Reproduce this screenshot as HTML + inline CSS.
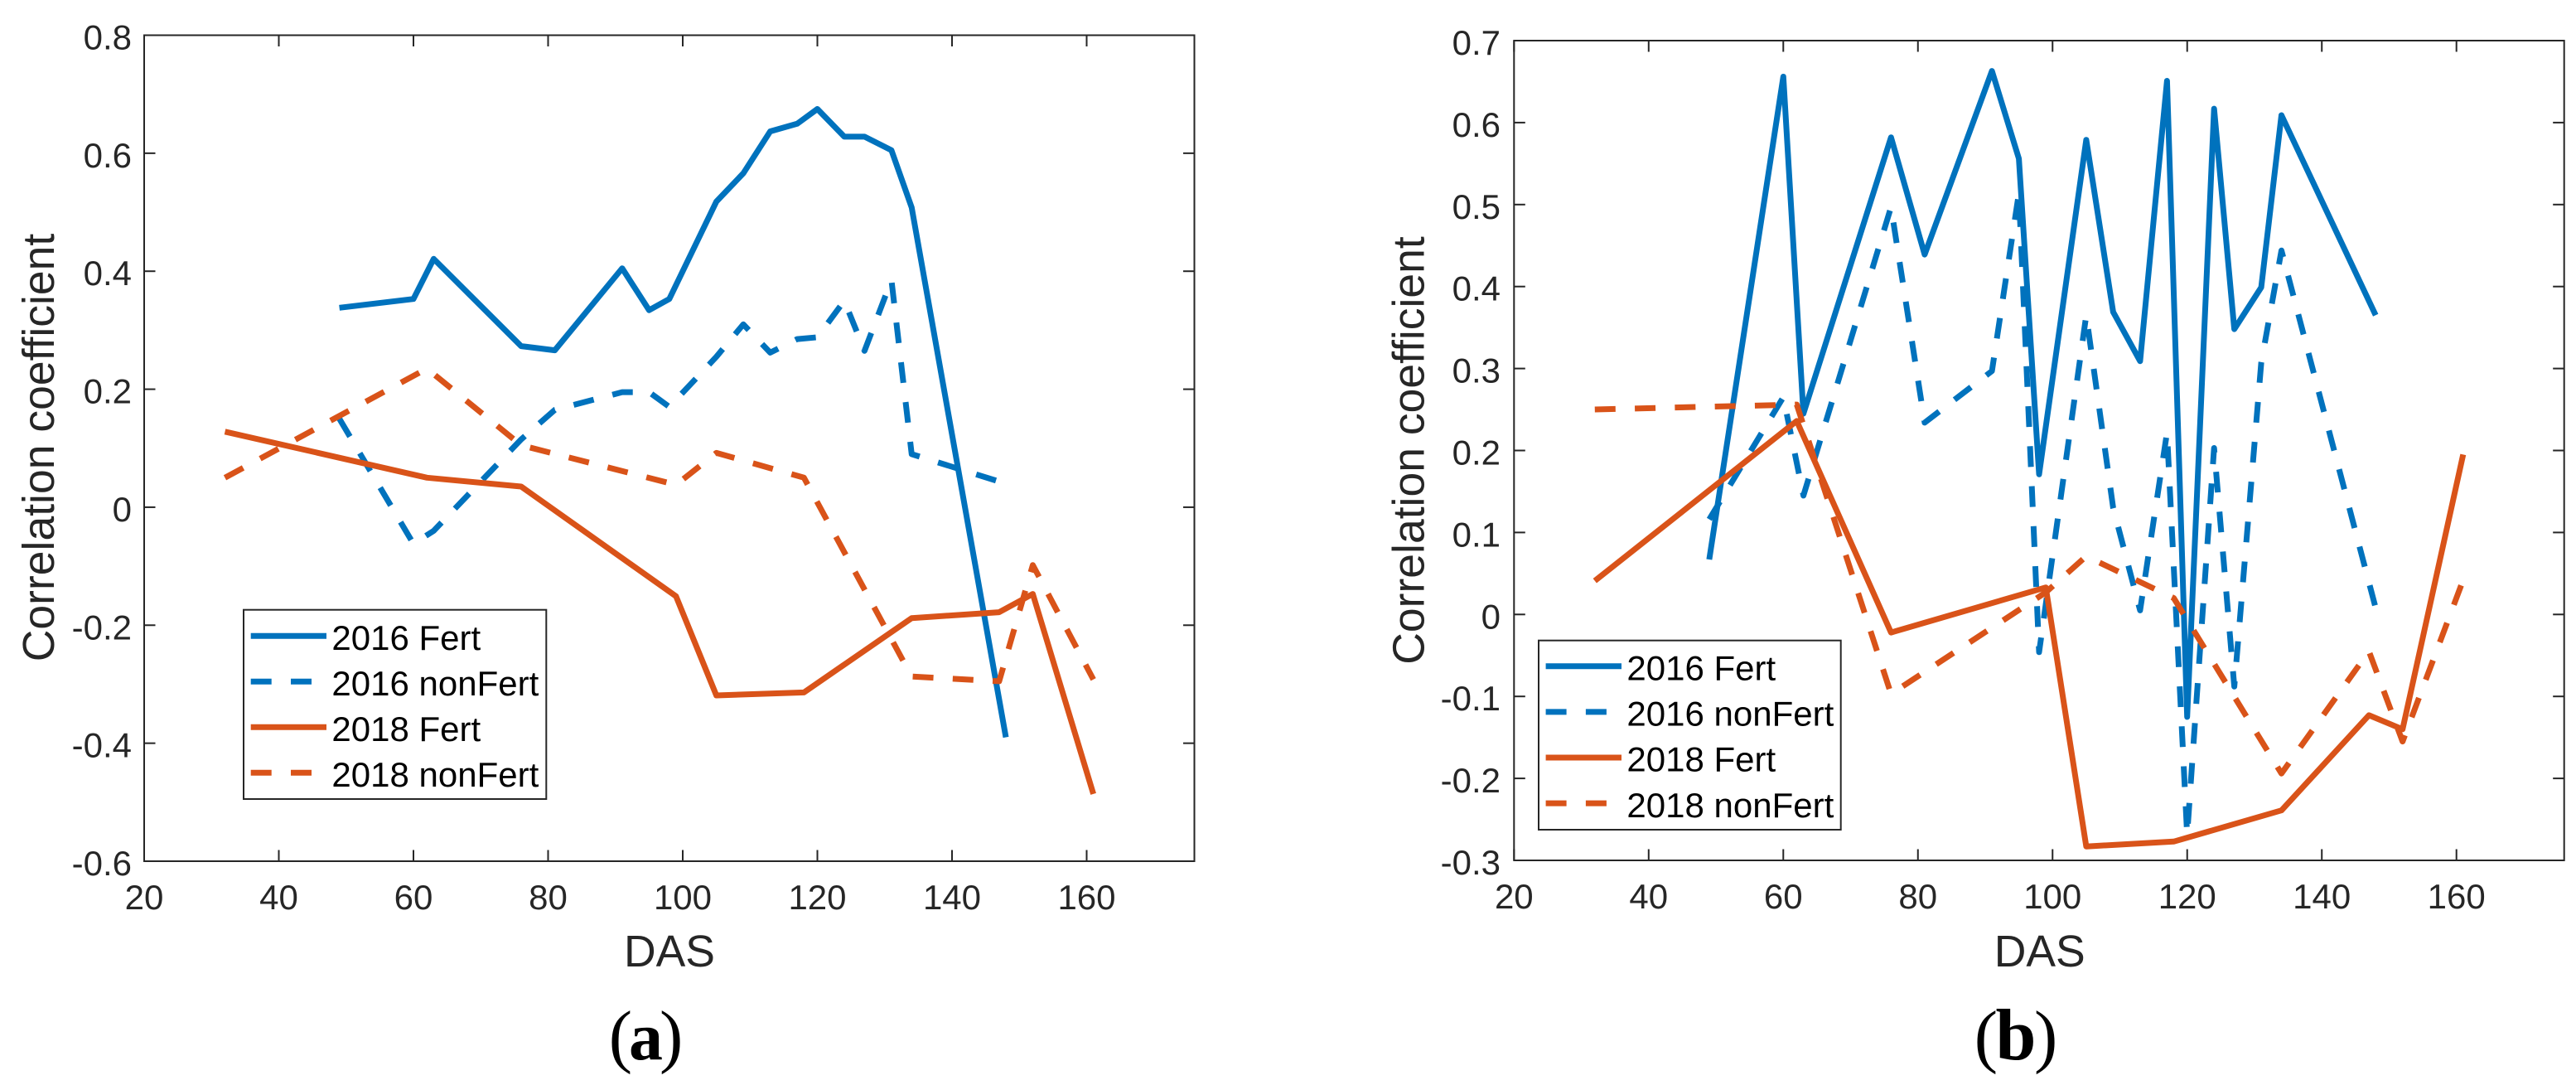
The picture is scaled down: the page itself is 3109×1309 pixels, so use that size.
<!DOCTYPE html>
<html lang="en">
<head>
<meta charset="utf-8">
<title>Correlation coefficient versus DAS</title>
<style>
html,body{margin:0;padding:0;background:#fff;width:3109px;height:1309px;overflow:hidden}
svg{display:block;font-family:"Liberation Sans",Arial,sans-serif}
</style>
</head>
<body>
<svg id="figure" width="3109" height="1309" viewBox="0 0 3109 1309" xmlns="http://www.w3.org/2000/svg">
  <rect width="3109" height="1309" fill="#fff"/>
  <g id="panel-a"></g>
  <g id="panel-b"></g>
  <text x="779.5" y="1278" text-anchor="middle" font-family="'Liberation Serif',serif"><tspan font-size="85">(</tspan><tspan font-size="82" font-weight="700" dx="-4">a</tspan><tspan font-size="85" dx="-4">)</tspan></text>
  <text x="2433" y="1278" text-anchor="middle" font-family="'Liberation Serif',serif"><tspan font-size="85">(</tspan><tspan font-size="88" font-weight="700" dx="-2.5">b</tspan><tspan font-size="85" dx="-2.5">)</tspan></text>
</svg>
<script>
// ---- data ----
const das2016 = [49, 60, 63, 76, 81, 91, 95, 98, 105, 109, 113, 117, 120, 124, 127, 131, 134, 148];
const das2018 = [32, 62, 76, 99, 105, 118, 134, 147, 152, 161];

const a2016Fert = [0.338, 0.353, 0.421, 0.273, 0.266, 0.405, 0.334, 0.353, 0.518, 0.566, 0.637, 0.650, 0.675, 0.628, 0.628, 0.605, 0.508, -0.390];
const a2016NonFert = [0.150, -0.062, -0.040, 0.115, 0.165, 0.195, 0.195, 0.170, 0.255, 0.310, 0.262, 0.285, 0.288, 0.350, 0.265, 0.385, 0.090, 0.040];
const a2018Fert = [0.128, 0.050, 0.035, -0.151, -0.319, -0.314, -0.188, -0.178, -0.147, -0.486];
const a2018NonFert = [0.050, 0.235, 0.105, 0.038, 0.092, 0.050, -0.287, -0.295, -0.098, -0.292];

const b2016Fert = [0.067, 0.656, 0.245, 0.582, 0.439, 0.663, 0.556, 0.171, 0.579, 0.369, 0.309, 0.651, -0.125, 0.617, 0.348, 0.399, 0.609, 0.365];
const b2016NonFert = [0.116, 0.265, 0.145, 0.497, 0.234, 0.297, 0.514, -0.046, 0.365, 0.130, 0.005, 0.222, -0.269, 0.203, -0.088, 0.307, 0.444, 0.008];
const b2018Fert = [0.041, 0.236, -0.022, 0.033, -0.283, -0.277, -0.239, -0.123, -0.140, 0.195];
const b2018NonFert = [0.250, 0.256, -0.097, 0.027, 0.071, 0.020, -0.194, -0.045, -0.155, 0.042];

const xTickValues = [20, 40, 60, 80, 100, 120, 140, 160];
const aYTickValues = [-0.6, -0.4, -0.2, 0, 0.2, 0.4, 0.6, 0.8];
const aYTickLabels = ["-0.6", "-0.4", "-0.2", "0", "0.2", "0.4", "0.6", "0.8"];
const bYTickValues = [-0.3, -0.2, -0.1, 0, 0.1, 0.2, 0.3, 0.4, 0.5, 0.6, 0.7];
const bYTickLabels = ["-0.3", "-0.2", "-0.1", "0", "0.1", "0.2", "0.3", "0.4", "0.5", "0.6", "0.7"];
const legendLabels = ["2016 Fert", "2016 nonFert", "2018 Fert", "2018 nonFert"];

// ---- drawing ----
const NS = "http://www.w3.org/2000/svg";
const BLUE = "#0072BD", ORANGE = "#D95319", AXIS = "#262626";
const DASH = "25 23.3";

function make(tag, attrs, parent) {
  const el = document.createElementNS(NS, tag);
  for (const k in attrs) el.setAttribute(k, attrs[k]);
  parent.appendChild(el);
  return el;
}

function label(parent, name, str, x, y, size, anchor, fill) {
  const el = make("text", { x: x, y: y, "font-size": size, "text-anchor": anchor, fill: fill }, parent);
  
  
  el.textContent = str;
  return el;
}

function drawPanel(cfg) {
  const g = document.getElementById(cfg.id);
  const sx = v => cfg.left + (v - cfg.xMin) * (cfg.right - cfg.left) / (cfg.xMax - cfg.xMin);
  const sy = v => cfg.bottom - (v - cfg.yMin) * (cfg.bottom - cfg.top) / (cfg.yMax - cfg.yMin);

  const box = make("rect", {
    x: cfg.left, y: cfg.top, width: cfg.right - cfg.left, height: cfg.bottom - cfg.top,
    fill: "none", stroke: AXIS, "stroke-width": 2
  }, g);
  
  

  xTickValues.forEach(v => {
    const px = sx(v);
    [[cfg.bottom, cfg.bottom - 13.5], [cfg.top, cfg.top + 13.5]].forEach(p => {
      const t = make("line", { x1: px, x2: px, y1: p[0], y2: p[1], stroke: AXIS, "stroke-width": 2 }, g);
      
      
    });
    label(g, "x-tick-label", String(v), px, cfg.xLabelY, 42, "middle", AXIS);
  });

  cfg.yTicks.forEach((v, i) => {
    const py = sy(v);
    [[cfg.left, cfg.left + 13.5], [cfg.right, cfg.right - 13.5]].forEach(p => {
      const t = make("line", { x1: p[0], x2: p[1], y1: py, y2: py, stroke: AXIS, "stroke-width": 2 }, g);
      
      
    });
    label(g, "y-tick-label", cfg.yLabels[i], cfg.yLabelX, py + 17, 42, "end", AXIS);
  });

  label(g, "x-axis-title", "DAS", cfg.xTitleX, 1166, 53.5, "middle", AXIS);

  const yt = make("text", {
    transform: "translate(" + cfg.yTitleX + " " + cfg.yTitleY + ") rotate(-90)",
    "font-size": 53.5, "text-anchor": "middle", fill: AXIS
  }, g);
  
  
  yt.textContent = "Correlation coefficient";

  cfg.series.forEach(s => {
    const pts = s.xs.map((x, i) => sx(x).toFixed(1) + "," + sy(s.ys[i]).toFixed(1)).join(" ");
    const line = make("polyline", {
      points: pts, fill: "none", stroke: s.color, "stroke-width": 7,
      "stroke-linejoin": "round", "stroke-linecap": "butt"
    }, g);
    if (s.dashed) line.setAttribute("stroke-dasharray", DASH);
    
    
  });

  const lg = cfg.legend;
  const legend = make("g", {}, g);
  
  
  const frame = make("rect", {
    x: lg.x, y: lg.y, width: lg.w, height: lg.h, fill: "#fff", stroke: AXIS, "stroke-width": 2
  }, legend);
  
  

  cfg.series.forEach((s, i) => {
    const y = lg.rowY + i * lg.rowStep;
    const sample = make("line", {
      x1: lg.lineX1, x2: lg.lineX2, y1: y, y2: y, stroke: s.color, "stroke-width": 7
    }, legend);
    if (s.dashed) sample.setAttribute("stroke-dasharray", DASH);
    
    
    label(legend, "legend-entry-" + s.slug, legendLabels[i], lg.textX, y + 16.7, 42, "start", "#000");
  });
}

function seriesFor(f16, n16, f18, n18) {
  return [
    { slug: "2016-fert", xs: das2016, ys: f16, color: BLUE, dashed: false },
    { slug: "2016-nonfert", xs: das2016, ys: n16, color: BLUE, dashed: true },
    { slug: "2018-fert", xs: das2018, ys: f18, color: ORANGE, dashed: false },
    { slug: "2018-nonfert", xs: das2018, ys: n18, color: ORANGE, dashed: true }
  ];
}

drawPanel({
  id: "panel-a", left: 174, right: 1441.5, top: 42.5, bottom: 1039,
  xMin: 20, xMax: 176, yMin: -0.6, yMax: 0.8,
  yTicks: aYTickValues, yLabels: aYTickLabels,
  xLabelY: 1097, yLabelX: 159, xTitleX: 808, yTitleX: 65, yTitleY: 540,
  series: seriesFor(a2016Fert, a2016NonFert, a2018Fert, a2018NonFert),
  legend: { x: 294, y: 735.7, w: 365.3, h: 228.3, rowY: 767.3, rowStep: 55, lineX1: 302.7, lineX2: 394, textX: 400.4 }
});

drawPanel({
  id: "panel-b", left: 1827.3, right: 3094.7, top: 49, bottom: 1038,
  xMin: 20, xMax: 176, yMin: -0.3, yMax: 0.7,
  yTicks: bYTickValues, yLabels: bYTickLabels,
  xLabelY: 1096, yLabelX: 1811, xTitleX: 2461.7, yTitleX: 1718.3, yTitleY: 543.5,
  series: seriesFor(b2016Fert, b2016NonFert, b2018Fert, b2018NonFert),
  legend: { x: 1857, y: 772.7, w: 364.7, h: 228.3, rowY: 803.8, rowStep: 55.1, lineX1: 1865.6, lineX2: 1957, textX: 1963.4 }
});
</script>
</body>
</html>
